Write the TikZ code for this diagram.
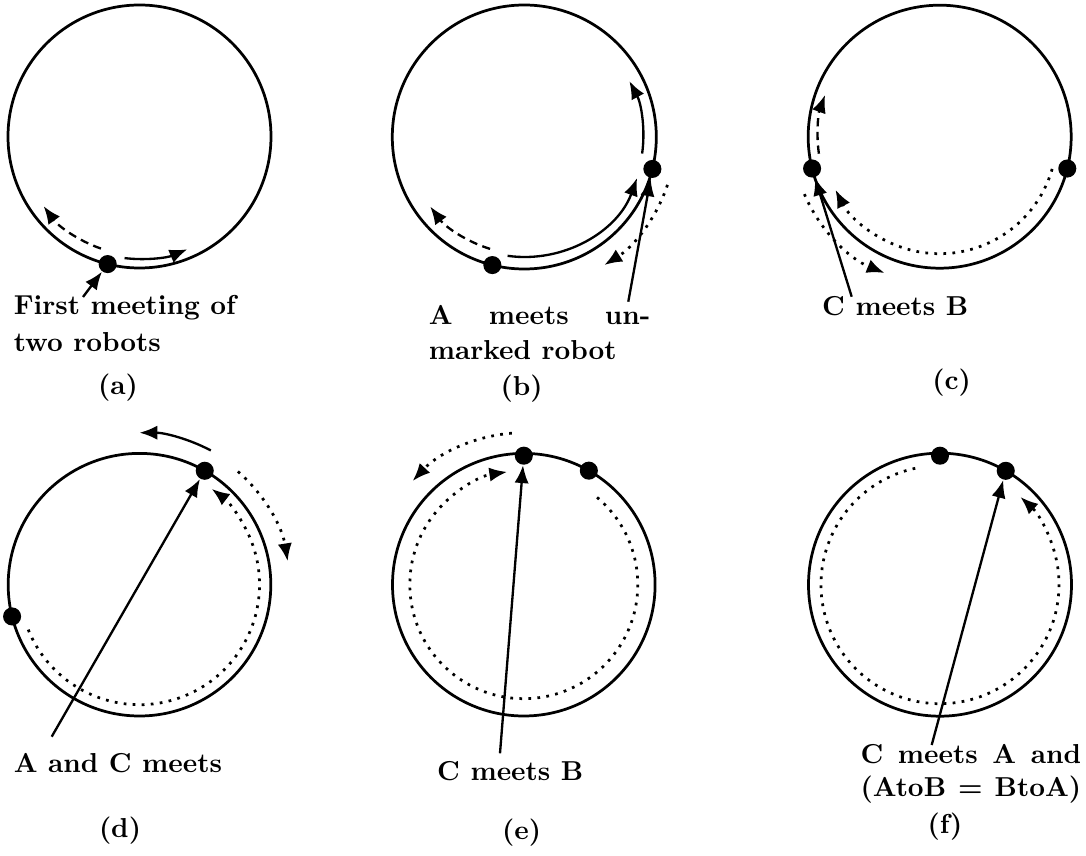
\documentclass[tikz,border=0pt]{standalone}
\usetikzlibrary{arrows.meta}
\begin{document}
\begin{tikzpicture}[x=0.365pt,y=0.365pt,
  ring/.style={line width=1pt},
  dot/.style={circle,fill=black,inner sep=0pt,minimum size=6.6pt},
  tip/.style={-{Latex[length=6.5pt,width=5.2pt]}},
  mv/.style={tip,line width=0.85pt},
  dsh/.style={mv,dash pattern=on 3pt off 2pt},
  dtd/.style={mv,line width=1pt,dash pattern=on 1pt off 2.3pt},
  ptr/.style={tip,line width=0.85pt},
  lbl/.style={font=\bfseries,inner sep=0pt,anchor=base west},
  sublbl/.style={font=\bfseries,inner sep=0pt,anchor=base}]
\useasboundingbox (0,0) rectangle (1086,856);

% ---------- (a)
\coordinate (ca) at (139.5,719.5);
\draw[ring] (ca) circle[radius=131.5];
\node[dot] (a1) at ([shift={(256:131.5)}]ca) {};
\draw[dsh] ([shift={(251:118.5)}]ca) arc[start angle=251,end angle=216,radius=118.5];
\draw[mv] ([shift={(263:122.5)}]ca) arc[start angle=263,end angle=293,radius=122.5];
\coordinate (pa) at (83,559);
\draw[ptr] (pa) -- (a1);
\node[lbl] (ta1) at (13.3,541) {First meeting of};
\node[lbl] (ta2) at (13.3,504.3) {two robots};
\node[sublbl] (capa) at (118,461) {(a)};

% ---------- (b)
\coordinate (cb) at (524.3,719);
\draw[ring] (cb) circle[radius=132];
\node[dot] (b1) at ([shift={(256:132)}]cb) {};
\node[dot] (b2) at ([shift={(346:132)}]cb) {};
\draw[dsh] ([shift={(253:117)}]cb) arc[start angle=253,end angle=216.5,radius=117];
\draw[mv] ([shift={(262:120)}]cb) arc[start angle=262,end angle=340,radius=120];
\draw[mv] ([shift={(352:119)}]cb) arc[start angle=352,end angle=388,radius=119];
\draw[dtd] ([shift={(341.5:151)}]cb) arc[start angle=341.5,end angle=302,radius=151];
\coordinate (pb) at (628.3,554.3);
\draw[ptr] (pb) -- (b2);
\node[lbl] (tb1) at (428.3,531) {\makebox[80.9pt][s]{A meets un-}};
\node[lbl] (tb2) at (428.3,496) {marked robot};
\node[sublbl] (capb) at (521.7,460) {(b)};

% ---------- (c)
\coordinate (cc) at (939.7,719.3);
\draw[ring] (cc) circle[radius=131.5];
\node[dot] (c1) at ([shift={(194:131.5)}]cc) {};
\node[dot] (c2) at ([shift={(346:131.5)}]cc) {};
\draw[dsh] ([shift={(188:122)}]cc) arc[start angle=188,end angle=160,radius=122];
\draw[dtd] ([shift={(344:117)}]cc) arc[start angle=344,end angle=207,radius=117];
\draw[dtd] ([shift={(203:147)}]cc) arc[start angle=203,end angle=248,radius=147];
\coordinate (pc) at (851.7,559.3);
\draw[ptr] (pc) -- (c1);
\node[lbl] (tc1) at (821.7,540) {C meets B};
\node[sublbl] (capc) at (951.7,466) {(c)};

% ---------- (d)
\coordinate (cd) at (139.5,271.3);
\draw[ring] (cd) circle[radius=131.3];
\node[dot] (d1) at ([shift={(60.2:131.3)}]cd) {};
\node[dot] (d2) at ([shift={(194:131.3)}]cd) {};
\draw[mv] ([shift={(62:152)}]cd) arc[start angle=62,end angle=90,radius=152];
\draw[dtd] ([shift={(49:150)}]cd) arc[start angle=49,end angle=9,radius=150];
\draw[dtd] ([shift={(202:120)}]cd) arc[start angle=202,end angle=413,radius=120];
\coordinate (pd) at (51.7,119.3);
\draw[ptr] (pd) -- (d1);
\node[lbl] (td1) at (13.3,83.3) {A and C meets};
\node[sublbl] (capd) at (120,18) {(d)};

% ---------- (e)
\coordinate (ce) at (523.8,271.3);
\draw[ring] (ce) circle[radius=131.3];
\node[dot] (e1) at ([shift={(90:129)}]ce) {};
\node[dot] (e2) at ([shift={(60.3:131.3)}]ce) {};
\draw[dtd] ([shift={(94.5:152)}]ce) arc[start angle=94.5,end angle=137,radius=152];
\draw[dtd] ([shift={(50:114)}]ce) arc[start angle=50,end angle=-261.6,radius=114];
\coordinate (pe) at (500,102.7);
\draw[ptr] (pe) -- (e1);
\node[lbl] (te1) at (436.7,75.3) {C meets B};
\node[sublbl] (cape) at (521.7,16) {(e)};

% ---------- (f)
\coordinate (cf) at (940,271.3);
\draw[ring] (cf) circle[radius=131.5];
\node[dot] (f1) at ([shift={(90:129)}]cf) {};
\node[dot] (f2) at ([shift={(60:131.5)}]cf) {};
\draw[dtd] ([shift={(102:119)}]cf) arc[start angle=102,end angle=407.5,radius=119];
\coordinate (pf) at (931.7,111);
\draw[ptr] (pf) -- (f2);
\node[lbl] (tf1) at (860,92.7) {\makebox[80.5pt][s]{C meets A and}};
\node[lbl] (tf2) at (860,59.3) {\makebox[80.5pt][s]{(AtoB = BtoA)}};
\node[sublbl] (capf) at (945,22) {(f)};
\end{tikzpicture}
\end{document}
